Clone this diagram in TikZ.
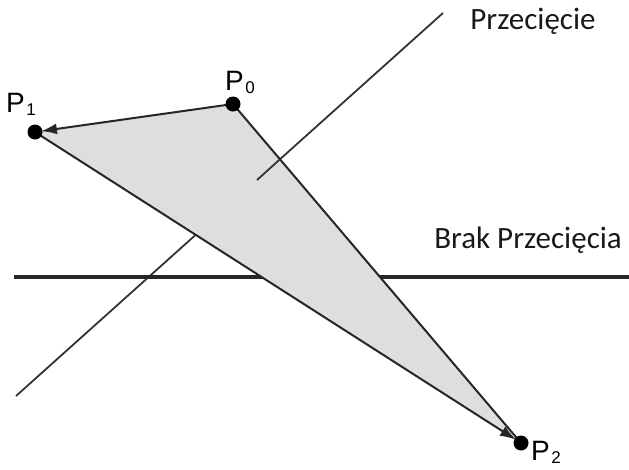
\documentclass[tikz,border=0pt]{standalone}
\usepackage{fontspec}
\setmainfont{Carlito}
\newfontfamily\ptfont{Liberation Sans}
\usetikzlibrary{arrows.meta}
\newcommand{\ptname}[1]{P\kern1.5pt\raisebox{-3.5pt}{\fontsize{17}{18}\selectfont #1}}
\tikzset{
  edge/.style={line width=2pt, black!85},
  ray/.style={line width=1.8pt, black!80},
  plane/.style={line width=3.2pt, black!85},
  arr/.style={edge, -{Latex[length=16pt,width=11pt]}, shorten >=6pt},
  dot/.style={circle, fill=black, inner sep=0pt, minimum size=15pt},
  ptlabel/.style={font=\ptfont\fontsize{28}{30}\selectfont, inner sep=0pt, anchor=base west},
  caption/.style={font=\fontsize{31}{34}\selectfont, text=black!90, inner sep=0pt},
}

\begin{document}
\begin{tikzpicture}[x=1pt, y=-1pt]
  \useasboundingbox (0,0) rectangle (629,469);

  % Points
  \coordinate (p0) at (233,104);
  \coordinate (p1) at (35,132);
  \coordinate (p2) at (521,443);

  % Lines
  \coordinate (d1) at (16,396);
  \coordinate (d2) at (443,13);
  \coordinate (h1) at (14,277);
  \coordinate (h2) at (629,277);
  \draw[ray] (d1) -- (d2);
  \draw[plane] (h1) -- (h2);

  % Triangle covers the lines
  \fill[fill={rgb,255:red,221;green,222;blue,224}] (p0) -- (p1) -- (p2) -- cycle;

  % Edges
  \draw[arr] (p0) -- (p1);
  \draw[arr] (p1) -- (p2);
  \draw[edge] (p2) -- (p0);

  % Piece of the crossing line seen inside
  \coordinate (cut) at (intersection of p0--p2 and d1--d2);
  \coordinate (stub) at (257,180);
  \draw[ray] (cut) -- (stub);

  % Dots
  \node[dot] (n0) at (p0) {};
  \node[dot] (n1) at (p1) {};
  \node[dot] (n2) at (p2) {};

  % Labels
  \node[ptlabel] (l0) at ([xshift=-8pt,yshift=14pt]n0.center) {\ptname{0}};
  \node[ptlabel] (l1) at ([xshift=-29pt,yshift=20pt]n1.center) {\ptname{1}};
  \node[ptlabel] (l2) at ([xshift=10pt,yshift=-17pt]n2.center) {\ptname{2}};
  \node[caption, anchor=center] (cross) at (533,21) {Przecięcie};
  \node[caption, anchor=center] (nocross) at (528,240) {Brak Przecięcia};
\end{tikzpicture}
\end{document}
